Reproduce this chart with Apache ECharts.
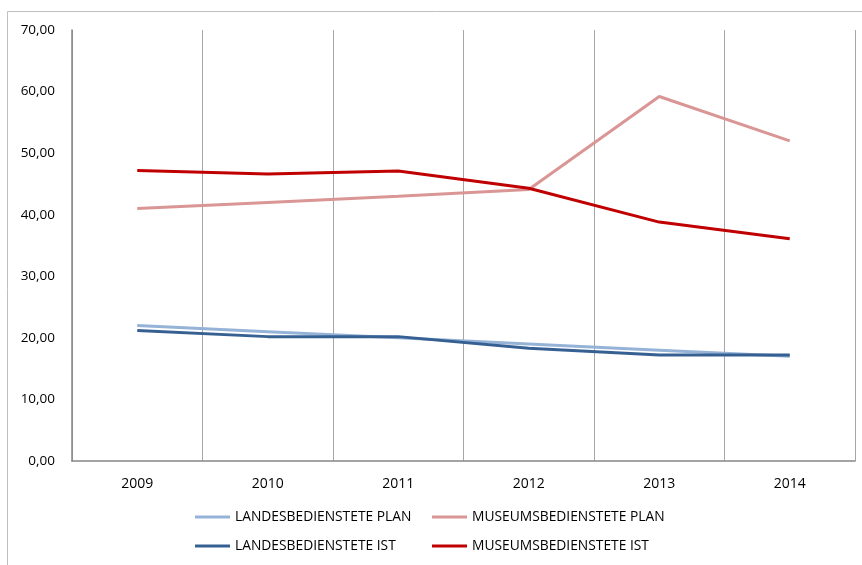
<!DOCTYPE html>
<html><head><meta charset="utf-8">
<script src="https://cdn.jsdelivr.net/npm/echarts@6/dist/echarts.min.js"></script>
<style>html,body{margin:0;padding:0;background:#fff}#c{width:862px;height:565px}</style>
</head><body><div id="c"></div>
<script>
const years = ['2009','2010','2011','2012','2013','2014'];
const landesPlan = [22, 21, 20, 19, 18, 17];
const museumPlan = [41, 42, 43, 44.1, 59.2, 52];
const landesIst = [21.2, 20.2, 20.2, 18.3, 17.2, 17.2];
const museumIst = [47.2, 46.6, 47.1, 44.3, 38.8, 36.1];
const seriesNames = ['LANDESBEDIENSTETE PLAN','MUSEUMSBEDIENSTETE PLAN','LANDESBEDIENSTETE IST','MUSEUMSBEDIENSTETE IST'];
const colors = ['#95B3D7','#D99694','#376092','#C00000'];
const font = '"Open Sans", "Noto Sans", sans-serif';

const chart = echarts.init(document.getElementById('c'));
const legendPos = [[195,510],[432,510],[195,539],[432,539]];
chart.setOption({
  animation:false,
  color: colors,
  textStyle:{fontFamily:font},
  graphic:[{type:'rect',shape:{x:7.5,y:11.5,width:900,height:600},style:{fill:'none',stroke:'#BFBFBF',lineWidth:1},silent:true}],
  legend: seriesNames.map((n,i)=>({
    data:[n], left:legendPos[i][0], top:legendPos[i][1], padding:0, icon:'rect', itemWidth:35, itemHeight:3, itemGap:0,
    textStyle:{fontFamily:font,fontSize:13.8,color:'#000'}
  })),
  grid:{left:72,right:7,top:30,bottom:104},
  xAxis:{type:'category',data:years,boundaryGap:true,
    axisLine:{lineStyle:{color:'#868686',width:1.5}},
    axisTick:{show:false},
    axisLabel:{color:'#000',fontSize:14,margin:16,fontFamily:font},
    splitLine:{show:true,lineStyle:{color:'#A6A6A6',width:1}}},
  yAxis:{type:'value',min:0,max:70,interval:10,
    axisLine:{show:true,lineStyle:{color:'#868686',width:1.5}},
    axisTick:{show:false},
    splitLine:{show:false},
    axisLabel:{color:'#000',fontSize:13.5,margin:17,fontFamily:font,formatter:v=>v.toFixed(2).replace('.',',')}},
  series:[
    {name:seriesNames[0],type:'line',data:landesPlan,symbol:'none',lineStyle:{width:3,color:colors[0]}},
    {name:seriesNames[1],type:'line',data:museumPlan,symbol:'none',lineStyle:{width:3,color:colors[1]}},
    {name:seriesNames[2],type:'line',data:landesIst,symbol:'none',lineStyle:{width:3,color:colors[2]}},
    {name:seriesNames[3],type:'line',data:museumIst,symbol:'none',lineStyle:{width:3,color:colors[3]}}
  ]
});
</script></body></html>
